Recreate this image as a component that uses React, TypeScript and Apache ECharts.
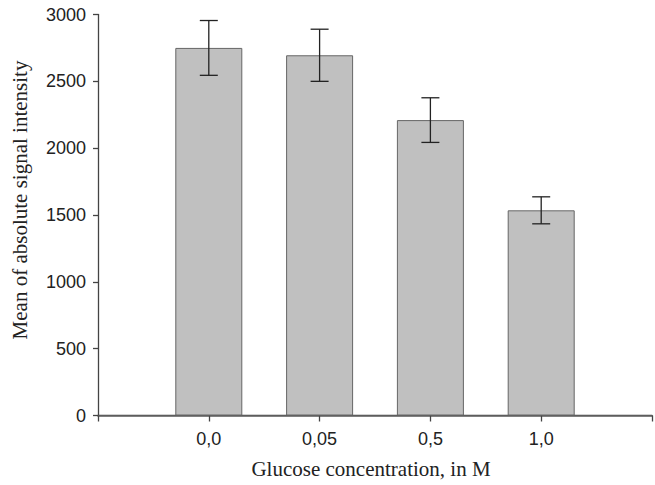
import React, { useEffect, useRef } from "react";
import * as echarts from "echarts";

const categories = ["0,0", "0,05", "0,5", "1,0"];
const means = [2750, 2695, 2210, 1535];
const errors = [205, 195, 167, 101];
const yTicks = [0, 500, 1000, 1500, 2000, 2500, 3000];

export default function App() {
  const ref = useRef<HTMLDivElement>(null);
  useEffect(() => {
    if (!ref.current) return;
    const chart = echarts.init(ref.current, null, { renderer: "svg" });
    const barData = means.map((v, i) => [i + 1, v]);
    const errData = means.map((v, i) => [i + 1, v - errors[i], v + errors[i]]);
    chart.setOption({
      animation: false,
      grid: { left: 98, top: 14.5, width: 558.5, height: 401, containLabel: false },
      xAxis: [
        {
          type: "value",
          min: 0,
          max: categories.length + 1,
          interval: 1,
          splitLine: { show: false },
          axisLine: { show: true, onZero: false, lineStyle: { color: "#444", width: 1.3 } },
          axisTick: { show: true, inside: false, length: 6, lineStyle: { color: "#444", width: 1.3 } },
          axisLabel: {
            margin: 14,
            fontFamily: "Liberation Sans, Arial, sans-serif",
            fontSize: 18,
            color: "#222",
            formatter: (v: number) => (v >= 1 && v <= categories.length ? categories[v - 1] : ""),
          },
        },
        {
          type: "value",
          position: "top",
          min: 0,
          max: categories.length + 1,
          axisLine: { show: true, lineStyle: { color: "#666", width: 1.5 } },
          axisTick: { show: false },
          axisLabel: { show: false },
          splitLine: { show: false },
        },
      ],
      yAxis: {
        type: "value",
        min: yTicks[0],
        max: yTicks[yTicks.length - 1],
        interval: 500,
        splitLine: { show: false },
        axisLine: { show: true, lineStyle: { color: "#444", width: 1.3 } },
        axisTick: { show: true, inside: false, length: 5, lineStyle: { color: "#444", width: 1.3 } },
        axisLabel: {
          margin: 12,
          fontFamily: "Liberation Sans, Arial, sans-serif",
          fontSize: 18,
          color: "#222",
          formatter: (v: number) => String(v),
        },
      },
      graphic: [
        {
          type: "text",
          x: 371,
          y: 469,
          style: {
            text: "Glucose concentration, in M",
            fontFamily: "Liberation Serif, Times New Roman, serif",
            fontSize: 21,
            fill: "#222",
            textAlign: "center",
            textVerticalAlign: "middle",
          },
        },
        {
          type: "text",
          x: 20,
          y: 200,
          rotation: Math.PI / 2,
          style: {
            text: "Mean of absolute signal intensity",
            fontFamily: "Liberation Serif, Times New Roman, serif",
            fontSize: 21,
            fill: "#222",
            textAlign: "center",
            textVerticalAlign: "middle",
          },
        },
      ],
      series: [
        {
          type: "bar",
          data: barData,
          barWidth: 67,
          itemStyle: { color: "#c0c0c0", borderColor: "#666", borderWidth: 1 },
        },
        {
          type: "custom",
          data: errData,
          encode: { x: 0, y: [1, 2] },
          z: 10,
          renderItem: (params: any, api: any) => {
            const x = api.value(0);
            const lo = api.coord([x, api.value(1)]);
            const hi = api.coord([x, api.value(2)]);
            const half = 9;
            const style = { stroke: "#222", lineWidth: 1.3 };
            return {
              type: "group",
              children: [
                { type: "line", shape: { x1: lo[0], y1: lo[1], x2: hi[0], y2: hi[1] }, style },
                { type: "line", shape: { x1: lo[0] - half, y1: lo[1], x2: lo[0] + half, y2: lo[1] }, style },
                { type: "line", shape: { x1: hi[0] - half, y1: hi[1], x2: hi[0] + half, y2: hi[1] }, style },
              ],
            };
          },
        },
      ],
    });
    return () => chart.dispose();
  }, []);
  return (
    <div
      ref={ref}
      style={{ position: "fixed", left: 0, top: 0, width: 655, height: 485, background: "#fff" }}
    />
  );
}
